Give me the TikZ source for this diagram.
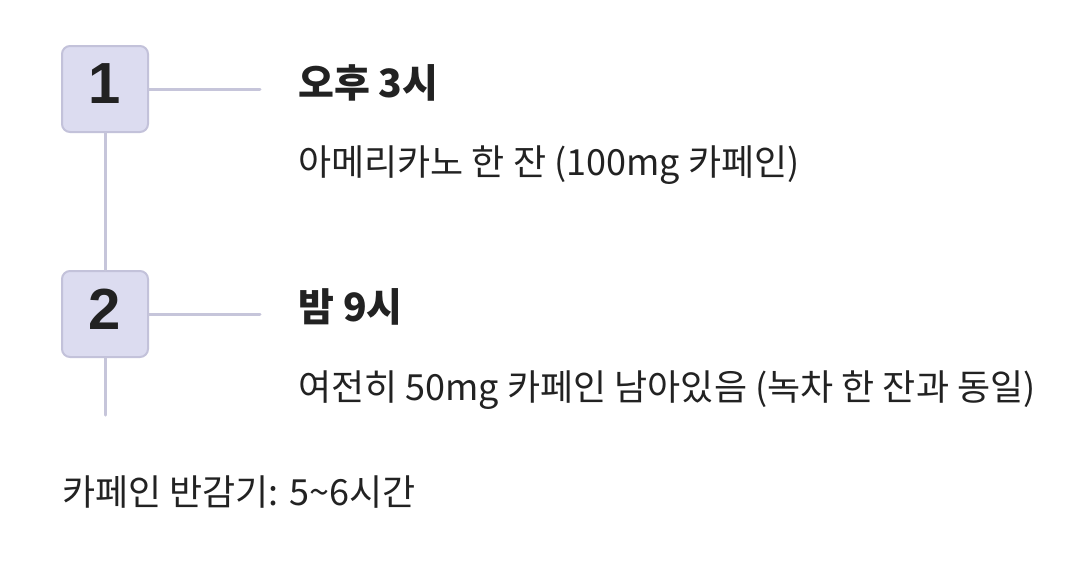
\documentclass[tikz,border=0pt]{standalone}
\usepackage{fontspec}
\setmainfont{Noto Sans CJK KR}
\newfontfamily\heavyfont{Noto Sans CJK KR Black}
\newfontfamily\digitfont{Liberation Sans}
\usepackage{tikz}

\definecolor{boxfill}{HTML}{DCDCF0}
\definecolor{boxline}{HTML}{C3C2DA}
\definecolor{linkline}{HTML}{C6C5DA}
\definecolor{ink}{HTML}{222222}

\tikzset{
  stepnum/.style={draw=boxline, fill=boxfill, line width=2pt, rounded corners=8pt,
    minimum size=86pt, inner sep=0pt, text depth=10pt,
    font=\fontsize{58}{58}\digitfont\bfseries, text=ink},
  link/.style={draw=linkline, line width=3pt, line cap=round},
  heading/.style={anchor=base west, inner sep=0pt, font=\fontsize{39}{39}\heavyfont, text=ink},
  detail/.style={anchor=base west, inner sep=0pt, font=\fontsize{36}{36}\selectfont, text=ink}
}

\begin{document}
\begin{tikzpicture}[x=1pt,y=-1pt]
\useasboundingbox (0,0) rectangle (1086,582);
\node[stepnum] (box1) at (105,89) {1};
\node[stepnum] (box2) at (105,314) {2};
\coordinate (tail) at (105,415);
\coordinate (end1) at (260,89);
\coordinate (end2) at (260,314);
\draw[link] (box1) -- (box2);
\draw[link] (box2) -- (tail);
\draw[link] (box1) -- (end1);
\draw[link] (box2) -- (end2);
\node[heading] (title1) at (298,97) {오후 3시};
\node[detail] (desc1) at (298,175) {아메리카노 한 잔 (100mg 카페인)};
\node[heading] (title2) at (298,321) {밤 9시};
\node[detail] (desc2) at (298,400) {여전히 50mg 카페인 남아있음 (녹차 한 잔과 동일)};
\node[detail] (note) at (62,505) {카페인 반감기: 5\textasciitilde6시간};
\end{tikzpicture}
\end{document}
